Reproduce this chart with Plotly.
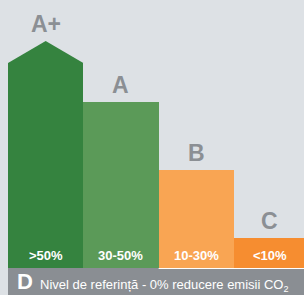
import plotly.graph_objects as go

# ---- data ----
classes = ["A+", "A", "B", "C"]
reductions = [">50%", "30-50%", "10-30%", "<10%"]
bar_heights = [205, 166, 98, 30]        # height of each bar (chart units)
peak_extra = 22                          # extra height of the A+ arrow tip
colors = ["#35833f", "#5b9a58", "#f9a553", "#f68d30"]
base_class = "D"
base_text = "Nivel de referință - 0% reducere emisii CO<sub>2</sub>"

BG = "#dde1e5"
BAND = "#8a8e93"
LABEL = "#8b8f94"
FONT = "Liberation Sans, Arial, sans-serif"

x_idx = list(range(len(classes)))

fig = go.Figure()
fig.add_trace(go.Bar(x=x_idx, y=bar_heights, marker=dict(color=colors, line=dict(width=0)),
                     width=1.0, hoverinfo="skip"))
# arrow tip on first bar
fig.add_trace(go.Scatter(
    x=[x_idx[0] - 0.5, x_idx[0], x_idx[0] + 0.5],
    y=[bar_heights[0], bar_heights[0] + peak_extra, bar_heights[0]],
    fill="toself", fillcolor=colors[0], mode="lines", line=dict(width=0, color=colors[0]),
    hoverinfo="skip"))

tops = [bar_heights[0] + peak_extra] + bar_heights[1:]
for i, (c, r, t) in enumerate(zip(classes, reductions, tops)):
    fig.add_annotation(x=i, y=t, text=f"<b>{c}</b>", showarrow=False, yanchor="bottom", yshift=2,
                       font=dict(family=FONT, size=23, color=LABEL),
                       xshift=(-2 if i == 3 else 0))
    fig.add_annotation(x=i, y=0, text=f"<b>{r}</b>", showarrow=False, yanchor="bottom", yshift=3,
                       font=dict(family=FONT, size=13, color="white"),
                       xshift=(-2 if i == 3 else 0))

# reference band
fig.add_shape(type="rect", xref="x", yref="y", x0=-0.5, x1=4, y0=-27, y1=0,
              fillcolor=BAND, line=dict(width=0), layer="below")
fig.add_shape(type="line", xref="x", yref="y", x0=1.5, x1=4, y0=-0.5, y1=-0.5,
              line=dict(color="white", width=1))
fig.add_annotation(xref="paper", yref="paper", x=8 / 296, y=0.0, xanchor="left", yanchor="bottom",
                   showarrow=False, borderpad=0, text=f"<b>{base_class}</b>",
                   font=dict(family=FONT, size=22, color="white"))
fig.add_annotation(xref="paper", yref="paper", x=31 / 296, y=0.0, xanchor="left", yanchor="bottom",
                   showarrow=False, borderpad=0, text=base_text,
                   font=dict(family=FONT, size=13, color="white"))

fig.update_layout(
    width=304, height=295, margin=dict(l=8, r=0, t=0, b=0),
    paper_bgcolor=BG, plot_bgcolor=BG, showlegend=False, bargap=0,
    xaxis=dict(visible=False, range=[-0.5, 3.43], fixedrange=True),
    yaxis=dict(visible=False, range=[-27, 268], fixedrange=True),
)
fig.write_html("out.html", config={"displayModeBar": False},
               post_script="document.body.style.margin='0';document.body.style.overflow='hidden';")
